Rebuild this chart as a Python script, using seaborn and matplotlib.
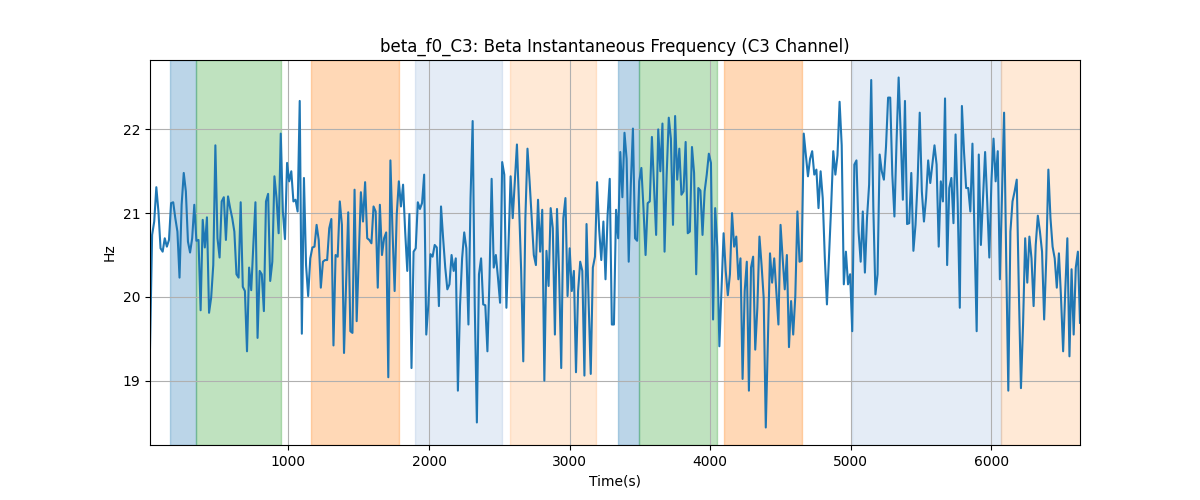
import numpy as np
import pandas as pd
import matplotlib
matplotlib.use("Agg")
import matplotlib.pyplot as plt
import seaborn as sns

# beta instantaneous frequency, C3 channel (one sample every 15 s)
t_step = 15
beta_hz = [
    19.39, 20.74, 20.90, 21.31, 21.02, 20.58, 20.54, 20.70, 20.60, 20.68,
    21.12, 21.13, 20.94, 20.78, 20.23, 21.10, 21.48, 21.26, 20.66, 20.53,
    20.70, 21.10, 20.67, 20.68, 19.84, 20.92, 20.59, 20.95, 19.81, 19.99,
    20.38, 21.81, 20.70, 20.47, 21.14, 21.19, 20.68, 21.20, 21.06, 20.94,
    20.78, 20.27, 20.23, 21.13, 20.12, 20.07, 19.35, 20.35, 20.08, 20.62,
    21.13, 19.51, 20.31, 20.27, 19.83,
    21.14, 21.23, 20.19, 20.42, 21.44, 21.18, 20.76, 21.95, 21.02, 20.69,
    21.60, 21.38, 21.50, 21.14, 21.16, 21.02, 22.34, 19.56, 21.42, 20.38,
    20.01, 20.46, 20.59, 20.60, 20.86, 20.68, 20.11, 20.42, 20.44, 20.44,
    20.82, 20.93, 19.42, 20.50, 20.48, 21.14, 20.86, 19.33, 20.17, 21.01,
    19.59, 19.57, 21.28, 19.71, 20.48, 21.25, 20.90, 21.37, 20.70, 20.68,
    20.64, 21.08, 21.02, 20.11, 21.10, 20.50,
    20.70, 20.77, 19.04, 21.63, 20.78, 20.07, 20.98, 21.38, 21.08, 21.34,
    20.78, 20.31, 20.99, 19.15, 20.54, 20.58, 21.13, 21.05, 21.12, 21.46,
    19.55, 19.91, 20.51, 20.48, 20.62, 20.59, 19.89, 21.08, 20.70, 20.35,
    20.09, 20.15, 20.50, 20.31, 20.46, 18.88, 19.89, 20.46, 20.77, 20.58,
    19.67, 21.18, 22.10, 19.89, 18.50, 20.27, 20.46, 19.91, 19.90, 19.35,
    20.23, 21.41, 20.35, 20.50, 20.23,
    19.93, 21.61, 21.46, 19.87, 20.62, 21.44, 20.94, 21.38, 21.82, 21.10,
    20.31, 19.23, 20.94, 21.77, 21.38, 20.94, 20.50, 20.38, 21.16, 20.54,
    21.04, 19.00, 20.55, 20.13, 21.06, 20.82, 19.55, 21.05, 20.27, 19.15,
    20.94, 21.18, 20.01, 20.58, 20.07, 20.31, 19.10, 20.07, 20.42, 20.31,
    19.06, 20.87, 19.93, 19.08, 20.35, 20.48, 21.37, 20.80, 20.44, 20.90,
    20.21, 20.98, 21.41, 19.67, 19.67, 21.04,
    20.70, 21.73, 21.19, 21.96, 21.65, 20.42, 21.34, 22.01, 20.70, 20.67,
    21.38, 21.54, 21.06, 20.50, 21.12, 21.14, 21.91, 21.34, 20.74, 22.00,
    21.50, 22.07, 20.54, 21.46, 22.14, 21.89, 20.86, 22.16, 21.40, 21.77,
    21.22, 21.26, 21.85, 20.76, 20.78, 21.79, 21.48, 20.27, 21.30, 21.27,
    20.74, 21.26, 21.46, 21.71, 21.60, 19.73, 21.06, 20.60, 19.41, 20.07,
    20.76, 20.31, 20.02, 20.27, 21.00,
    20.60, 20.72, 20.21, 20.46, 19.02, 20.07, 20.42, 18.88, 20.35, 20.48,
    19.37, 19.87, 20.72, 20.38, 19.99, 18.44, 19.47, 20.52, 20.17, 20.46,
    20.07, 19.67, 20.86, 20.46, 20.09, 20.50, 19.40, 19.95, 19.55, 20.01,
    21.02, 20.42, 20.43, 21.95, 21.69, 21.44, 21.65, 21.74, 21.46, 21.52,
    21.06, 21.50, 21.18, 20.46, 19.91, 20.50, 21.08, 21.74, 21.46, 21.69,
    22.33, 21.81, 20.15, 20.54, 20.15, 20.27,
    19.59, 21.58, 21.63, 20.78, 20.42, 21.02, 20.29, 20.94, 21.34, 22.59,
    21.06, 20.03, 20.27, 21.70, 21.50, 21.40, 21.79, 22.38, 22.38, 21.46,
    20.96, 21.85, 22.62, 21.93, 21.16, 22.34, 20.87, 20.88, 21.48, 20.55,
    20.86, 21.38, 22.20, 21.26, 20.90, 21.18, 21.63, 21.36, 21.58, 21.81,
    21.58, 20.60, 21.38, 21.14, 22.37, 20.38, 21.30, 21.42, 20.88, 21.94,
    21.12, 19.87, 22.28, 21.73, 21.30,
    21.30, 21.02, 21.83, 20.70, 19.59, 21.70, 20.62, 21.18, 21.73, 21.14,
    20.47, 21.38, 21.89, 21.38, 21.74, 20.21, 21.18, 22.20, 20.46, 18.88,
    20.78, 21.14, 21.26, 21.40, 20.07, 18.91, 19.67, 20.70, 20.17, 20.72,
    20.46, 19.89, 20.62, 20.97, 20.78, 20.54, 19.73, 20.46, 21.52, 20.94,
    20.60, 20.46, 20.11, 20.52, 19.99, 19.35, 20.07, 20.70, 19.29, 20.33,
    19.55, 20.35, 20.54, 19.69,
]

# shaded segments: start, end, colour, alpha
seg_start = [160, 340, 1160, 1900, 2575, 3345, 3490, 4100, 5005, 6070]
seg_end = [340, 945, 1785, 2520, 3185, 3490, 4045, 4655, 6070, 6640]
seg_color = ["tab:blue", "tab:green", "tab:orange", "#4b80c3", "tab:orange",
             "tab:blue", "tab:green", "tab:orange", "#4b80c3", "tab:orange"]
seg_alpha = [0.3, 0.3, 0.3, 0.15, 0.17, 0.3, 0.3, 0.3, 0.15, 0.17]

df = pd.DataFrame({"time": np.arange(1, len(beta_hz) + 1) * t_step, "hz": beta_hz})

fig, ax = plt.subplots(figsize=(12, 5), dpi=100)

for s, e, c, a in zip(seg_start, seg_end, seg_color, seg_alpha):
    ax.axvspan(s, e, color=c, alpha=a, zorder=0)

sns.lineplot(data=df, x="time", y="hz", ax=ax, color="tab:blue", linewidth=1.5)

ax.set_xlim(df["time"].min(), df["time"].max())
ax.grid(True)
ax.set_title("beta_f0_C3: Beta Instantaneous Frequency (C3 Channel)")
ax.set_xlabel("Time(s)")
ax.set_ylabel("Hz")

plt.savefig("out.png")
